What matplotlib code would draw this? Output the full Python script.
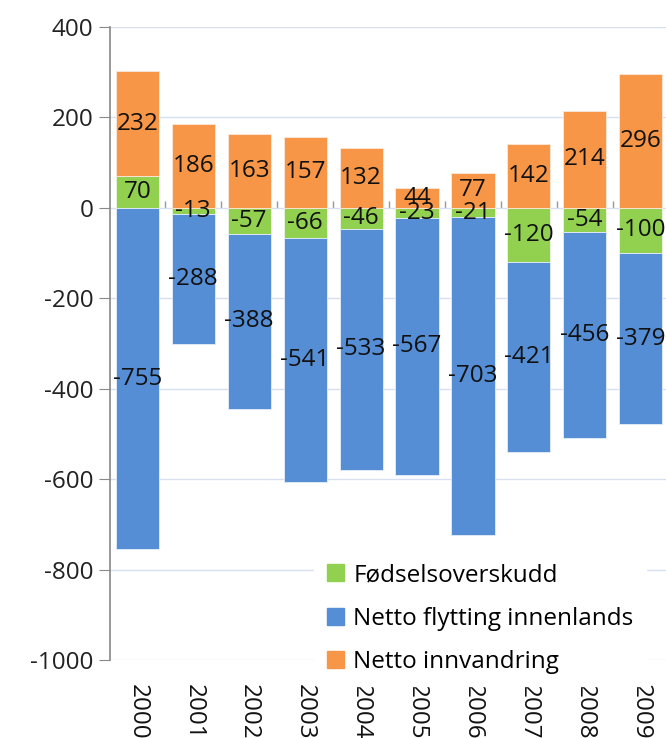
import matplotlib
matplotlib.use("Agg")
import matplotlib.pyplot as plt
import matplotlib.patches as mpatches
import numpy as np

years = ["2000", "2001", "2002", "2003", "2004", "2005", "2006", "2007", "2008", "2009"]
fodsel = [70, -13, -57, -66, -46, -23, -21, -120, -54, -100]
innenlands = [-755, -288, -388, -541, -533, -567, -703, -421, -456, -379]
innvandring = [232, 186, 163, 157, 132, 44, 77, 142, 214, 296]

series_names = ["Fødselsoverskudd", "Netto flytting innenlands", "Netto innvandring"]
colors = ["#92D050", "#558ED5", "#F79646"]

plt.rcParams['font.family'] = ['Open Sans', 'DejaVu Sans']
plt.rcParams['axes.unicode_minus'] = False
fs = 17.5

fig = plt.figure(figsize=(6.66, 7.38), dpi=100)
ax = fig.add_axes([0.165, 0.1057, 0.835, 0.8577])

X = np.arange(len(years))
g = np.array(fodsel)
b = np.array(innenlands)
o = np.array(innvandring)
pos_base = np.where(g > 0, g, 0)
neg_base = np.where(g < 0, g, 0)

w = 0.77
ax.bar(X, g, width=w, color=colors[0], edgecolor="#eef5e6", linewidth=0.6, zorder=3)
ax.bar(X, b, width=w, bottom=neg_base, color=colors[1], edgecolor="#e6eef8", linewidth=0.6, zorder=3)
ax.bar(X, o, width=w, bottom=pos_base, color=colors[2], edgecolor="#fbe9dc", linewidth=0.6, zorder=3)

# data labels in the middle of each segment
for vals, base in ((g, np.zeros(len(g))), (b, neg_base), (o, pos_base)):
    for x, v, bb in zip(X, vals, base):
        ax.text(x, bb + v / 2, str(v), ha="center", va="center", fontsize=fs,
                color="#111111", zorder=5)

ax.set_ylim(-1000, 400)
ax.set_xlim(-0.49, 9.45)
ax.set_yticks(np.arange(-1000, 401, 200))
ax.yaxis.grid(True, color="#D6E0F0", linewidth=1.0, zorder=0)
ax.set_axisbelow(True)
for s in ["top", "right", "bottom"]:
    ax.spines[s].set_visible(False)
ax.spines["left"].set_color("#888888")
ax.spines["left"].set_linewidth(1.2)
ax.tick_params(axis="y", direction="out", length=8, color="#888888", labelsize=fs,
               labelcolor="#222222", pad=4)

# years along the bottom, rotated
ax.set_xticks(X)
ax.set_xticklabels(years, rotation=-90, fontsize=fs, color="#111111")
ax.tick_params(axis="x", length=0, pad=17)

# category axis line at zero with ticks between categories
zero_frac = (0 - (-1000)) / (400 - (-1000))
sec = ax.secondary_xaxis(zero_frac)
sec.set_xticks(np.arange(len(years) + 1) - 0.5)
sec.set_xticklabels([])
sec.tick_params(direction="out", length=5, color="#999999", width=1)
sec.spines["bottom"].set_color("#999999")
sec.spines["bottom"].set_linewidth(1.2)
sec.spines["top"].set_visible(False)

handles = [mpatches.Patch(color=c) for c in colors]
leg = fig.legend(handles, series_names, loc="upper left", bbox_to_anchor=(0.472, 0.253),
                 frameon=True, fontsize=fs, handlelength=0.7, handleheight=0.7,
                 handletextpad=0.4, labelspacing=0.8, borderpad=0.5, borderaxespad=0)
leg.get_frame().set_facecolor("white")
leg.get_frame().set_edgecolor("white")
leg.get_frame().set_alpha(1)
leg.set_zorder(10)

fig.savefig("out.png", dpi=100)
